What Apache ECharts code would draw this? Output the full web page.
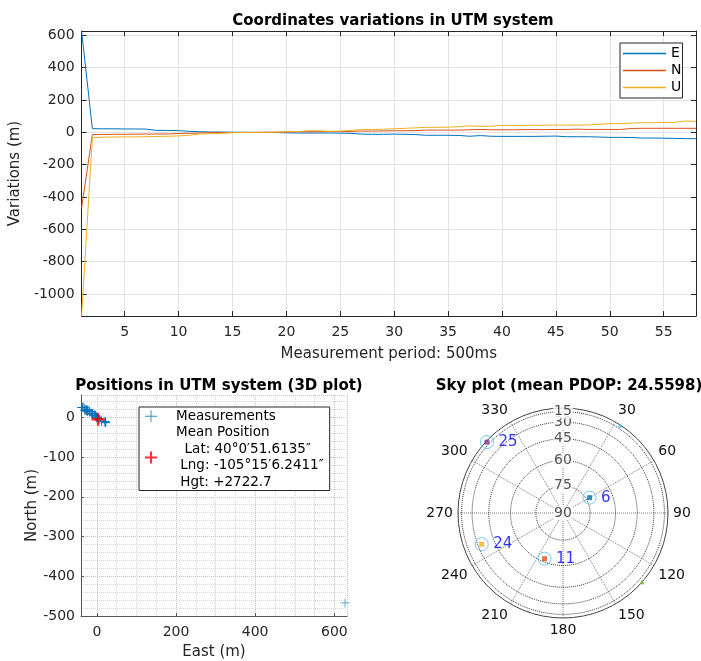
<!DOCTYPE html>
<html>
<head>
<meta charset="utf-8">
<script src="https://cdn.jsdelivr.net/npm/echarts@6/dist/echarts.min.js"></script>
<style>
html, body { margin: 0; padding: 0; background: #fff; }
#chart { width: 701px; height: 661px; }
</style>
</head>
<body>
<div id="chart"></div>
<script>
// measurement index (500 ms period)
var epochs = [1, 2, 3, 4, 5, 6, 7, 8, 9, 10, 11, 12, 13, 14, 15, 16, 17, 18, 19, 20,
  21, 22, 23, 24, 25, 26, 27, 28, 29, 30, 31, 32, 33, 34, 35, 36, 37, 38, 39, 40,
  41, 42, 43, 44, 45, 46, 47, 48, 49, 50, 51, 52, 53, 54, 55, 56, 57, 58];
// variations E / N / U (m)
var eastVar = [627, 23, 22, 22, 21, 21, 20, 12, 12, 11, 6, 4, 2, 2, 1, 0, 0, 0, -1, -3,
  -4, -4, -4, -4, -5, -6, -11, -12, -12, -11, -12, -14, -18, -18, -18, -19, -24, -20, -24, -25,
  -25, -25, -25, -24, -23, -27, -27, -27, -29, -31, -31, -32, -35, -35, -36, -37, -39, -39];
var northVar = [-467, -14, -13, -12, -12, -11, -11, -10, -10, -7, -6, -4, -2, -1, -1, 0, -1, 0, 1, 2,
  4, 4, 4, 5, 5, 6, 8, 8, 9, 10, 10, 11, 14, 14, 14, 14, 16, 18, 16, 16,
  16, 17, 17, 17, 18, 18, 20, 18, 18, 18, 18, 24, 25, 25, 25, 25, 25, 25];
var upVar = [-1136, -33, -30, -29, -28, -28, -27, -25, -24, -22, -18, -10, -8, -6, -2, -1, 0, 0, 1, 4,
  4, 10, 10, 6, 8, 12, 18, 18, 19, 22, 25, 28, 31, 31, 32, 35, 40, 37, 38, 43,
  43, 43, 44, 44, 45, 45, 45, 46, 50, 54, 54, 57, 60, 60, 61, 62, 70, 68];
var meanPos = [3, -5];
var meanLabel = 'Mean Position\n  Lat: 40°0′51.6135″\n Lng: -105°15′6.2411″\n Hgt: +2722.7';

// sky plot
var satPrn = ['25', '', '6', '24', '11', ''];
var satAz = [313, 33, 60, 249, 202, 131];
var satEl = [8, 4, 73, 34, 62, 3];
var satColors = ['#7E2F8E', '#4DBEEE', '#0072BD', '#EDB120', '#D95319', '#77AC30'];
var ringEl = [75, 60, 45, 30, 15];

var lineNames = ['E', 'N', 'U'];
var lineColors = ['#0072BD', '#D95319', '#EDB120'];

var axisColor = '#262626';
var font = 'DejaVu Sans';
var plusThin = 'path://M0,9.2L20,9.2L20,10.8L0,10.8Z M9.2,0L10.8,0L10.8,20L9.2,20Z';
var plusBold = 'path://M0,8.2L20,8.2L20,11.8L0,11.8Z M8.2,0L11.8,0L11.8,20L8.2,20Z';

function toRad(el) { return Math.cos(el * Math.PI / 180); }

function pairs(xs, ys) {
  return xs.map(function(x, i) { return [x, ys[i]]; });
}

var series = [];
[eastVar, northVar, upVar].forEach(function(vals, k) {
  series.push({ name: lineNames[k], type: 'line', xAxisIndex: 0, yAxisIndex: 0, symbol: 'none',
    data: pairs(epochs, vals), lineStyle: { color: lineColors[k], width: 1 },
    itemStyle: { color: lineColors[k] } });
});

series.push({ name: 'Measurements', type: 'scatter', xAxisIndex: 2, yAxisIndex: 2,
  symbol: plusThin, symbolSize: 9, data: pairs(eastVar, northVar),
  itemStyle: { color: '#0072BD' }, z: 3 });
series.push({ name: meanLabel, type: 'scatter', xAxisIndex: 2, yAxisIndex: 2,
  symbol: plusBold, symbolSize: 13, data: [meanPos],
  itemStyle: { color: '#FF0000' }, z: 4 });

// elevation rings
ringEl.forEach(function(el) {
  var d = [];
  for (var a = 0; a <= 360; a += 3) d.push([toRad(el), a]);
  series.push({ type: 'line', coordinateSystem: 'polar', symbol: 'none', silent: true,
    data: d, lineStyle: { color: '#3a3a3a', width: 1, type: 'dotted' }, z: 1 });
});
// elevation labels
series.push({ type: 'scatter', coordinateSystem: 'polar', symbolSize: 0, silent: true, z: 5,
  data: [90].concat(ringEl).map(function(el) { return { value: [toRad(el), 0], name: String(el) }; }),
  label: { show: true, position: 'inside', formatter: '{b}', color: axisColor, fontFamily: font,
    fontSize: 14, backgroundColor: '#fff', padding: [0, 1] } });
// satellites
series.push({ type: 'scatter', coordinateSystem: 'polar', silent: true, z: 6,
  data: satAz.map(function(az, i) {
    return { value: [toRad(satEl[i]), az], name: satPrn[i],
      symbol: satPrn[i] ? 'rect' : 'triangle', symbolSize: 5,
      itemStyle: { color: satColors[i] } };
  }),
  label: { show: true, position: 'right', distance: 9, formatter: '{b}', color: '#0000FF',
    fontFamily: font, fontSize: 15 } });
series.push({ type: 'scatter', coordinateSystem: 'polar', silent: true, z: 5,
  symbol: 'circle', symbolSize: 13,
  data: satAz.map(function(az, i) { return [toRad(satEl[i]), az]; })
    .filter(function(v, i) { return satPrn[i] !== ''; }),
  itemStyle: { color: 'rgba(0,0,0,0)', borderColor: '#4DBEEE', borderWidth: 1 } });

var tickLbl = { color: axisColor, fontFamily: font, fontSize: 14, formatter: function(v) { return String(v); } };

var option = {
  animation: false,
  backgroundColor: '#fff',
  textStyle: { fontFamily: font },
  title: [
    { text: 'Coordinates variations in UTM system', left: 388, top: 9, textAlign: 'center',
      textStyle: { fontSize: 15, fontWeight: 'bold', color: '#000', fontFamily: font } },
    { text: 'Positions in UTM system (3D plot)', left: 214, top: 374, textAlign: 'center',
      textStyle: { fontSize: 15, fontWeight: 'bold', color: '#000', fontFamily: font } },
    { text: 'Sky plot (mean PDOP: 24.5598)', left: 564, top: 374, textAlign: 'center',
      textStyle: { fontSize: 15, fontWeight: 'bold', color: '#000', fontFamily: font } }
  ],
  legend: [
    { data: lineNames.map(function(n, k) {
        return { name: n, icon: 'rect', itemStyle: { color: lineColors[k], borderWidth: 0 } };
      }),
      orient: 'vertical', left: 620, top: 43, itemWidth: 43, itemHeight: 1.6,
      itemGap: 0, padding: [2, 1, 2, 3], borderColor: axisColor, borderWidth: 1, backgroundColor: '#fff',
      textStyle: { fontSize: 14, color: '#000', fontFamily: font, lineHeight: 17 } },
    { data: ['Measurements', meanLabel], orient: 'vertical', left: 139, top: 407,
      itemWidth: 40, itemHeight: 12, itemGap: 0, padding: [1, 6, 0, 6], symbolKeepAspect: true,
      borderColor: axisColor, borderWidth: 1, backgroundColor: '#fff',
      textStyle: { fontSize: 13.5, color: '#000', fontFamily: font, lineHeight: 16.5 } }
  ],
  grid: [
    { left: 81, top: 31, width: 615, height: 285 },
    { left: 81, top: 395, width: 266, height: 223 }
  ],
  xAxis: [
    { gridIndex: 0, type: 'value', min: 1, max: 58, minInterval: 5, maxInterval: 5, splitNumber: 11,
      name: 'Measurement period: 500ms', nameLocation: 'middle', nameGap: 31,
      nameTextStyle: { fontSize: 15, color: axisColor, fontFamily: font },
      axisLine: { onZero: false, lineStyle: { color: axisColor } },
      axisTick: { inside: true, length: 5, lineStyle: { color: axisColor } },
      axisLabel: Object.assign({ margin: 9, showMinLabel: false, showMaxLabel: false }, tickLbl),
      splitLine: { show: true, lineStyle: { color: '#e3e3e3' } } },
    { gridIndex: 0, type: 'value', position: 'top', min: 1, max: 58, minInterval: 5, maxInterval: 5, splitNumber: 11,
      axisLine: { onZero: false, lineStyle: { color: axisColor } },
      axisTick: { inside: true, length: 5, lineStyle: { color: axisColor } },
      axisLabel: { show: false }, splitLine: { show: false } },
    { gridIndex: 1, type: 'value', min: -40, max: 632, minInterval: 200, maxInterval: 200, splitNumber: 3,
      name: 'East (m)', nameLocation: 'middle', nameGap: 29,
      nameTextStyle: { fontSize: 15, color: axisColor, fontFamily: font },
      axisLine: { onZero: false, lineStyle: { color: '#555' } },
      axisTick: { inside: true, length: 3, lineStyle: { color: '#555' } },
      axisLabel: Object.assign({ margin: 9, showMinLabel: false, showMaxLabel: false }, tickLbl),
      minorTick: { show: false, splitNumber: 4 },
      splitLine: { show: true, lineStyle: { color: '#c4c4c4', type: 'dotted' } },
      minorSplitLine: { show: true, lineStyle: { color: '#d6d6d6', type: 'dotted' } } }
  ],
  yAxis: [
    { gridIndex: 0, type: 'value', min: -1136, max: 627, minInterval: 200, maxInterval: 200, splitNumber: 8,
      name: 'Variations (m)', nameLocation: 'middle', nameGap: 48,
      nameTextStyle: { fontSize: 15, color: axisColor, fontFamily: font },
      axisLine: { onZero: false, lineStyle: { color: axisColor } },
      axisTick: { inside: true, length: 5, lineStyle: { color: axisColor } },
      axisLabel: Object.assign({ margin: 7, showMinLabel: false, showMaxLabel: false }, tickLbl),
      splitLine: { show: true, lineStyle: { color: '#e3e3e3' } } },
    { gridIndex: 0, type: 'value', position: 'right', min: -1136, max: 627, minInterval: 200, maxInterval: 200, splitNumber: 8,
      axisLine: { show: true, onZero: false, lineStyle: { color: axisColor } },
      axisTick: { show: true, inside: true, length: 5, lineStyle: { color: axisColor } },
      axisLabel: { show: false }, splitLine: { show: false } },
    { gridIndex: 1, type: 'value', min: -500, max: 56, minInterval: 100, maxInterval: 100, splitNumber: 6,
      name: 'North (m)', nameLocation: 'middle', nameGap: 41,
      nameTextStyle: { fontSize: 15, color: axisColor, fontFamily: font },
      axisLine: { show: true, onZero: false, lineStyle: { color: '#555' } },
      axisTick: { show: true, inside: true, length: 3, lineStyle: { color: '#555' } },
      axisLabel: Object.assign({ margin: 6, showMaxLabel: false }, tickLbl),
      minorTick: { show: false, splitNumber: 5 },
      splitLine: { show: true, lineStyle: { color: '#c4c4c4', type: 'dotted' } },
      minorSplitLine: { show: true, lineStyle: { color: '#d6d6d6', type: 'dotted' } } }
  ],
  polar: { center: [563, 513], radius: 105 },
  angleAxis: { type: 'value', min: 0, max: 360, interval: 30, startAngle: 90, clockwise: true,
    axisLine: { show: true, lineStyle: { color: '#444', width: 1 } },
    axisTick: { show: false },
    axisLabel: Object.assign({}, tickLbl, { margin: 5, color: '#111',
      formatter: function(v) { return v % 360 === 0 ? '' : String(v); } }),
    splitLine: { show: true, lineStyle: { color: '#7a7a7a', type: 'dotted' } } },
  radiusAxis: { type: 'value', min: 0, max: 1,
    axisLine: { show: false }, axisTick: { show: false }, axisLabel: { show: false },
    splitLine: { show: false } },
  series: series
};

var chart = echarts.init(document.getElementById('chart'));
chart.setOption(option);
</script>
</body>
</html>
